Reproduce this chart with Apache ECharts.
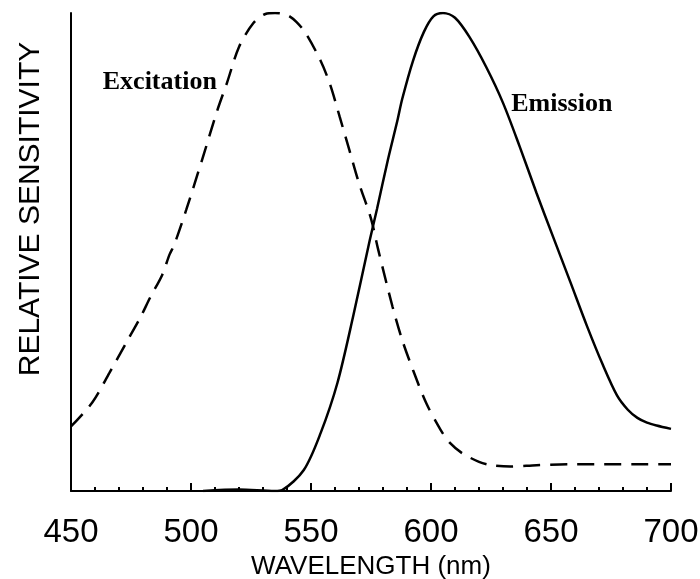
<!DOCTYPE html>
<html>
<head>
<meta charset="utf-8">
<title>Relative sensitivity</title>
<script src="https://cdn.jsdelivr.net/npm/echarts@6/dist/echarts.min.js"></script>
<style>
  html, body { margin: 0; padding: 0; background: #fff; }
  #chart { width: 700px; height: 579px; }
</style>
</head>
<body>
<div id="chart"></div>
<script>
// wavelength (nm) / relative sensitivity (%)
var excitationNm = [450, 459, 466, 473, 479, 483, 488, 491, 493, 498, 505, 511, 515, 520, 526, 531, 535,
  540, 544, 548, 554, 558, 562, 566, 570, 575, 578, 584, 588, 592.5, 598, 604, 608, 613, 620, 625,
  633, 644, 658, 672, 686, 700];
var excitationVal = [13.5, 18.6, 24.7, 31, 36.4, 40.5, 45.2, 49.4, 51.5, 58.8, 69.9, 79.7, 85.4, 92.9, 97.9, 99.8, 100,
  99.6, 98.1, 95.6, 90, 85, 78.2, 71.3, 64.4, 57, 50.5, 38.5, 31.6, 25.3, 18.4, 12.8, 10, 7.9, 6.1, 5.4,
  5.1, 5.4, 5.6, 5.6, 5.6, 5.6];

var emissionNm = [505, 520, 535, 538, 547, 554, 561, 567.5, 574.5, 577.5, 582, 586, 588, 592.5, 597, 601, 605,
  610, 616, 623, 630, 637, 644, 651, 658, 665, 671.5, 677.5, 682, 686, 690, 694, 700];
var emissionVal = [0, 0.3, 0, 0.2, 4.4, 12.1, 22.6, 36.4, 52.5, 59, 69.2, 77.5, 82, 90, 96, 99.3, 100,
  99, 95, 88.7, 81.2, 72, 62.3, 53, 43.8, 34.5, 26.5, 20, 17, 15.3, 14.3, 13.7, 13];

var xTicks = [450, 500, 550, 600, 650, 700];

var labelNames = ['Excitation', 'Emission'];
var labelAt = [[487, 85.6], [654.5, 81]];

function zip(xs, ys) {
  var out = [];
  for (var i = 0; i < xs.length; i++) {
    out.push([xs[i], ys[i]]);
  }
  return out;
}

function curveLabel(name, coord) {
  return {
    silent: true,
    symbol: 'circle',
    symbolSize: 2,
    itemStyle: { color: 'rgba(0,0,0,0)' },
    label: {
      show: true,
      position: 'inside',
      formatter: name,
      color: '#000',
      fontFamily: 'Liberation Serif',
      fontWeight: 'bold',
      fontSize: 26
    },
    data: [{ coord: coord }]
  };
}

var myChart = echarts.init(document.getElementById('chart'), null, { renderer: 'canvas' });

var option = {
  backgroundColor: '#fff',
  animation: false,
  grid: {
    left: 71,
    right: 29,
    top: 13,
    bottom: 88,
    containLabel: false,
    outerBoundsMode: 'none'
  },
  xAxis: {
    type: 'value',
    min: xTicks[0],
    max: xTicks[xTicks.length - 1],
    interval: 50,
    name: 'WAVELENGTH (nm)',
    nameLocation: 'middle',
    nameGap: 52,
    nameTextStyle: {
      color: '#000',
      fontFamily: 'Liberation Sans',
      fontSize: 26
    },
    axisLine: { lineStyle: { color: '#000', width: 2 } },
    axisTick: { inside: true, length: 8, lineStyle: { color: '#000', width: 2 } },
    minorTick: { show: true, splitNumber: 5, length: 4, lineStyle: { color: '#000', width: 2 } },
    axisLabel: {
      margin: 25,
      color: '#000',
      fontFamily: 'Liberation Sans',
      fontSize: 33
    },
    splitLine: { show: false }
  },
  yAxis: {
    type: 'value',
    min: 0,
    max: 100,
    axisLine: { show: true, lineStyle: { color: '#000', width: 2 } },
    axisTick: { show: false },
    axisLabel: { show: false },
    splitLine: { show: false }
  },
  graphic: [
    {
      type: 'text',
      x: 31,
      y: 209,
      rotation: Math.PI / 2,
      style: {
        text: 'RELATIVE SENSITIVITY',
        fill: '#000',
        font: '30px "Liberation Sans"',
        align: 'center',
        verticalAlign: 'middle'
      }
    }
  ],
  series: [
    {
      name: labelNames[0],
      type: 'line',
      data: zip(excitationNm, excitationVal),
      smooth: 0.3,
      showSymbol: false,
      lineStyle: { color: '#000', width: 2.5, type: [17, 10] },
      markPoint: curveLabel(labelNames[0], labelAt[0])
    },
    {
      name: labelNames[1],
      type: 'line',
      data: zip(emissionNm, emissionVal),
      smooth: 0.3,
      showSymbol: false,
      lineStyle: { color: '#000', width: 2.5 },
      markPoint: curveLabel(labelNames[1], labelAt[1])
    }
  ]
};

myChart.setOption(option);
</script>
</body>
</html>
